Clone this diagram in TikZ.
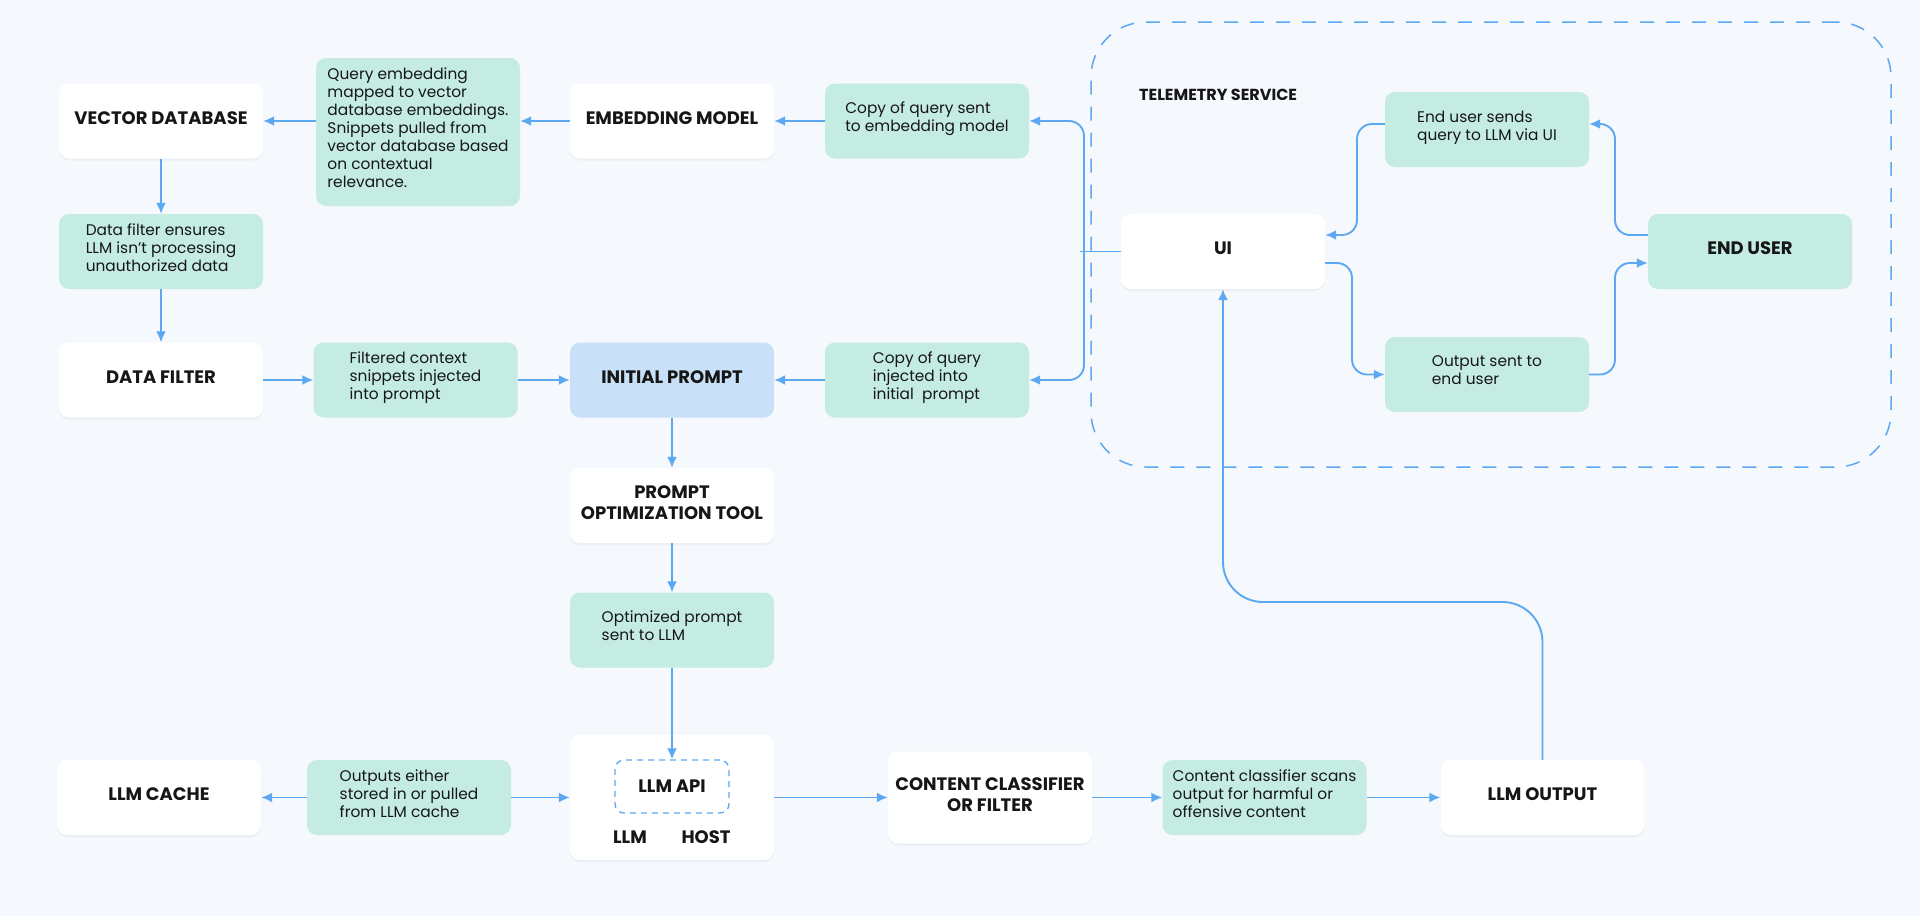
\documentclass[tikz,border=0pt]{standalone}
\usepackage{fontspec}
\setmainfont{Poppins}
\usetikzlibrary{arrows.meta,shadows,calc}
\definecolor{bg}{HTML}{F5F8FC}
\definecolor{mint}{HTML}{C4ECE2}
\definecolor{sky}{HTML}{C8E1F8}
\definecolor{flow}{HTML}{5CA9F2}
\definecolor{ink}{HTML}{161616}
\tikzset{
  base/.style={rounded corners=10pt, minimum width=204pt, minimum height=75pt, inner sep=0pt, text=ink},
  wbox/.style={base, fill=white, drop shadow={shadow xshift=0pt, shadow yshift=-2pt, opacity=0.08}, font=\fontsize{18}{21}\selectfont\bfseries, align=center, text depth=6pt},
  gbox/.style={base, fill=mint, font=\fontsize{15.4}{18}\selectfont, align=left, text depth=8pt},
  bbox/.style={base, fill=sky, font=\fontsize{18}{21}\selectfont\bfseries, align=center, text depth=6pt},
  ttl/.style={inner sep=0pt, text=ink, font=\fontsize{18}{21}\selectfont\bfseries},
  arr/.style={draw=flow, line width=1.9pt, -{Latex[length=11pt,width=10pt]}},
  conn/.style={draw=flow, line width=1.9pt},
  telbox/.style={draw=flow, line width=1.5pt, dash pattern=on 14pt off 12pt, rounded corners=55pt, minimum width=800pt, minimum height=445pt},
  apibox/.style={draw=flow, line width=1.3pt, dash pattern=on 6pt off 5pt, rounded corners=9pt, minimum width=114pt, minimum height=53pt, inner sep=0pt, text=ink, font=\fontsize{18}{21}\selectfont\bfseries},
}
\begin{document}
\begin{tikzpicture}[x=1pt,y=-1pt]
\fill[bg] (0,0) rectangle (1920,916);
\useasboundingbox (0,0) rectangle (1920,916);

% telemetry region
\node[telbox] (tel) at (1491,244.5) {};
\node[ttl, anchor=west, font=\fontsize{16}{19}\selectfont\bfseries] (teltitle) at (1139,95) {TELEMETRY SERVICE};

% row 1
\node[wbox] (vdb) at (161,121) {VECTOR DATABASE};
\node[gbox, minimum height=148pt] (qemb) at (418,132) {Query embedding\\mapped to vector\\database embeddings.\\Snippets pulled from\\vector database based\\on contextual\\relevance.};
\node[wbox] (emb) at (672,121) {EMBEDDING MODEL};
\node[gbox] (cpyemb) at (927,121) {Copy of query sent\\to embedding model};

% left column
\node[gbox] (dfe) at (161,251.5) {Data filter ensures\\LLM isn’t processing\\unauthorized data};
\node[wbox] (df) at (161,380) {DATA FILTER};
\node[gbox] (fcs) at (415.5,380) {Filtered context\\snippets injected\\into prompt};
\node[bbox] (ip) at (672,380) {INITIAL PROMPT};
\node[gbox] (cpyip) at (927,380) {Copy of query\\injected into\\initial\ \ prompt};

% telemetry contents
\node[wbox] (ui) at (1223,251.5) {UI};
\node[gbox] (eus) at (1487,129.5) {End user sends\\query to LLM via UI};
\node[gbox] (ose) at (1487,374.5) {Output sent to\\end user};
\node[gbox, font=\fontsize{18}{21}\selectfont\bfseries, align=center, text depth=6pt] (eu) at (1750,251.5) {END USER};

% middle column
\node[wbox] (pot) at (672,505.5) {PROMPT\\OPTIMIZATION TOOL};
\node[gbox] (opt) at (672,630) {Optimized prompt\\sent to LLM};

% bottom row
\node[wbox, minimum height=125pt] (host) at (672,797.5) {};
\node[apibox] (api) at (672,786.5) {LLM API};
\node[ttl] (llmlbl) at (630,837) {LLM};
\node[ttl] (hostlbl) at (706,837) {HOST};
\node[wbox] (cache) at (159,797.5) {LLM CACHE};
\node[gbox] (oes) at (409,797.5) {Outputs either\\stored in or pulled\\from LLM cache};
\node[wbox, minimum height=92pt] (ccf) at (990,797.5) {CONTENT CLASSIFIER\\OR FILTER};
\node[gbox] (ccs) at (1264.5,797.5) {Content classifier scans\\output for harmful or\\offensive content};
\node[wbox] (out) at (1542.5,797.5) {LLM OUTPUT};

% connectors
\draw[arr] (qemb.west |- vdb.east) -- (vdb.east);
\draw[arr] (emb.west) -- (emb.west -| qemb.east);
\draw[arr] (cpyemb.west) -- (emb.east);
\draw[arr] (vdb.south) -- (dfe.north);
\draw[arr] (dfe.south) -- (df.north);
\draw[arr] (df.east) -- (fcs.west);
\draw[arr] (fcs.east) -- (ip.west);
\draw[arr] (cpyip.west) -- (ip.east);
\draw[arr] (ip.south) -- (pot.north);
\draw[arr] (pot.south) -- (opt.north);
\draw[arr] (opt.south) -- (api.north);
\draw[arr] (oes.west) -- (cache.east);
\draw[arr] (oes.east) -- (host.west);
\draw[arr] (host.east) -- (ccf.west);
\draw[arr] (ccf.east) -- (ccs.west);
\draw[arr] (ccs.east) -- (out.west);

% UI to copies
\coordinate (uij) at (1084,251.5);
\draw[conn] ([xshift=-4pt]uij) -- (ui.west);
\draw[arr, rounded corners=15pt] (uij) |- (cpyemb.east);
\draw[arr, rounded corners=15pt] (uij) |- (cpyip.east);

% end user loop
\coordinate (eur) at (1615,0);
\coordinate (eul) at (1357,0);
\coordinate (uio) at (1352,0);
\draw[arr, rounded corners=15pt] ([yshift=16.5pt]eu.west) -- ([yshift=16.5pt]eu.west -| eur) |- ([yshift=5.5pt]eus.east);
\draw[arr, rounded corners=15pt] ([yshift=5.5pt]eus.west) -- ([yshift=5.5pt]eus.west -| eul) |- ([yshift=16.5pt]ui.east);
\draw[arr, rounded corners=15pt] ([yshift=-11.5pt]ui.east) -- ([yshift=-11.5pt]ui.east -| uio) |- (ose.west);
\draw[arr, rounded corners=15pt] (ose.east) -- (ose.east -| eur) |- ([yshift=-11.5pt]eu.west);

% output back to UI
\coordinate (back) at (0,602);
\draw[arr, rounded corners=40pt] (out.north) -- (out.north |- back) -- (ui.south |- back) -- (ui.south);
\end{tikzpicture}
\end{document}
